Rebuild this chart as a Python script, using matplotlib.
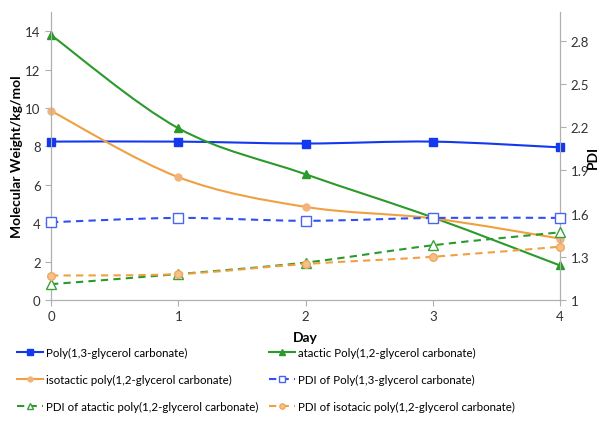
import numpy as np
import matplotlib
matplotlib.use('Agg')
import matplotlib.pyplot as plt
from matplotlib.path import Path
from matplotlib.patches import PathPatch
from matplotlib.lines import Line2D

plt.rcParams['font.family'] = ['Lato', 'DejaVu Sans']

days = [0, 1, 2, 3, 4]

# molecular weight, kg/mol (left axis)
mw_poly13 = [8.25, 8.25, 8.15, 8.25, 7.95]
mw_atactic = [13.8, 8.95, 6.55, 4.3, 1.8]
mw_isotactic = [9.85, 6.4, 4.85, 4.25, 3.2]

# PDI (right axis)
pdi_poly13 = [1.54, 1.57, 1.55, 1.57, 1.57]
pdi_atactic = [1.11, 1.18, 1.26, 1.38, 1.47]
pdi_isotactic = [1.17, 1.18, 1.25, 1.30, 1.37]

labels = ['Poly(1,3-glycerol carbonate)',
          'atactic Poly(1,2-glycerol carbonate)',
          'isotactic poly(1,2-glycerol carbonate)',
          'PDI of Poly(1,3-glycerol carbonate)',
          'PDI of atactic poly(1,2-glycerol carbonate)',
          'PDI of isotacic poly(1,2-glycerol carbonate)']

blue = '#1238f0'
green = '#2a9a2a'
orange = '#f0a040'


def smooth_line(ax, x, y, **kw):
    # excel-style smoothed line: catmull-rom as cubic bezier segments
    pts = np.column_stack([x, y]).astype(float)
    verts = [pts[0]]
    codes = [Path.MOVETO]
    n = len(pts)
    for i in range(n - 1):
        p0 = pts[max(i - 1, 0)]
        p1 = pts[i]
        p2 = pts[i + 1]
        p3 = pts[min(i + 2, n - 1)]
        verts += [p1 + (p2 - p0) / 6.0, p2 - (p3 - p1) / 6.0, p2]
        codes += [Path.CURVE4] * 3
    ax.add_patch(PathPatch(Path(verts, codes), fill=False, **kw))


fig = plt.figure(figsize=(6.05, 4.27), dpi=100)
ax = fig.add_axes([51 / 605, 1 - 301 / 427, 509 / 605, 288 / 427])
ax2 = ax.twinx()

ax.set_xlim(0, 4)
ax.set_ylim(0, 15)
ax2.set_ylim(1, 3)

series = [
    (ax, mw_poly13, blue, '-', dict(marker='s', ms=6, mfc=blue, mec=blue)),
    (ax, mw_atactic, green, '-', dict(marker='^', ms=6, mfc=green, mec=green)),
    (ax, mw_isotactic, orange, '-', dict(marker='o', ms=5, mfc='#f2b27a', mec='#f2b27a')),
    (ax2, pdi_poly13, '#3050f0', (0, (3.5, 2.5)), dict(marker='s', ms=6.5, mfc='white', mec='#4a64f0', mew=1.0)),
    (ax2, pdi_atactic, green, (0, (3.5, 2.5)), dict(marker='^', ms=6.5, mfc='white', mec='#3aa03a', mew=1.0)),
    (ax2, pdi_isotactic, orange, (0, (3.5, 2.5)), dict(marker='o', ms=5.5, mfc='#f5c08a', mec='#f0a860', mew=1.0)),
]

handles = []
for a, vals, col, ls, mk in series:
    smooth_line(a, days, vals, edgecolor=col, linewidth=1.5, linestyle=ls, zorder=3)
    a.plot(days, vals, linestyle='none', zorder=4, clip_on=False, **mk)
    handles.append(Line2D([], [], color=col, linewidth=1.5, linestyle=ls, **mk))

for a in (ax, ax2):
    for s in a.spines.values():
        s.set_color('#b0b0b0')
    a.spines['top'].set_visible(False)
    a.tick_params(colors='#b0b0b0', labelcolor='#333333', labelsize=9.5, length=4)

ax.set_xticks(days)
ax.set_yticks(np.arange(0, 15, 2))
ax2.set_yticks([1, 1.3, 1.6, 1.9, 2.2, 2.5, 2.8])
ax2.set_yticklabels(['1', '1.3', '1.6', '1.9', '2.2', '2.5', '2.8'])

ax.set_xlabel('Day', fontsize=10, fontweight='bold', labelpad=6)
ax.set_ylabel('Molecular Weight/kg/mol', fontsize=10, fontweight='bold')
ax.yaxis.set_label_coords(-0.055, 0.5)
ax2.set_ylabel('PDI', fontsize=10, fontweight='bold', rotation=90)
ax2.yaxis.set_label_coords(1.052, 0.5)

order = [0, 2, 4, 1, 3, 5]
fig.legend([handles[i] for i in order], [labels[i] for i in order],
           loc='upper left', bbox_to_anchor=(0.02, 0.195), ncol=2, frameon=False,
           fontsize=8.3, handlelength=2.3, handletextpad=0.25, columnspacing=0.9,
           labelspacing=1.35, borderaxespad=0, markerscale=0.7)

fig.savefig('out.png', dpi=100)
